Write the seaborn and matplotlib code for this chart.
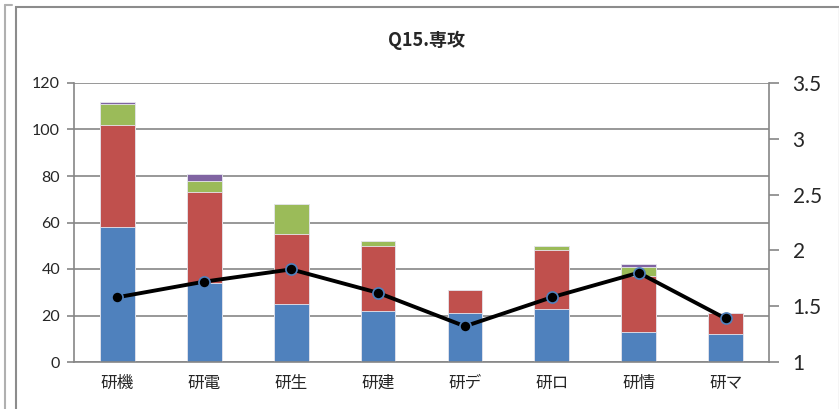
import numpy as np
import pandas as pd
import matplotlib
matplotlib.use("Agg")
import matplotlib.pyplot as plt
import seaborn as sns

# data
majors = ["研機", "研電", "研生", "研建", "研デ", "研ロ", "研情", "研マ"]
s1 = [58, 34, 25, 22, 21, 23, 13, 12]
s2 = [44, 39, 30, 28, 10, 25, 24, 9]
s3 = [9, 5, 13, 2, 0, 2, 4, 0]
s4 = [1, 3, 0, 0, 0, 0, 1, 0]
avg = [1.58, 1.72, 1.83, 1.62, 1.32, 1.58, 1.80, 1.39]

colors = ["#4F81BD", "#C0504D", "#9BBB59", "#8064A2"]
grid_c = "#868686"

sns.set_style("white")
plt.rcParams["font.family"] = ["Noto Sans CJK JP", "DejaVu Sans"]

df = pd.DataFrame({"major": majors, "s1": s1, "s2": s2, "s3": s3, "s4": s4})
cum = df[["s1", "s2", "s3", "s4"]].cumsum(axis=1)

fig = plt.figure(figsize=(8.39, 4.09), dpi=100)
ax = fig.add_axes([74 / 839, 47 / 409, 695 / 839, 279 / 409])

# chart frames
fig.add_artist(plt.Rectangle((15.5 / 839, -0.1), 1.0, (409 - 7) / 409 + 0.1,
                             transform=fig.transFigure, fill=False,
                             edgecolor="#8c8c8c", lw=1.5))
fig.add_artist(plt.Line2D([4.7 / 839, 4.7 / 839], [0, (409 - 5) / 409],
                          transform=fig.transFigure, color="#b0b0b0", lw=1.5))
fig.add_artist(plt.Line2D([4.7 / 839, 12 / 839], [(409 - 5) / 409, (409 - 5) / 409],
                          transform=fig.transFigure, color="#b0b0b0", lw=1.5))
fig.add_artist(plt.Line2D([838.5 / 839, 838.5 / 839], [0, (409 - 7) / 409],
                          transform=fig.transFigure, color="#d0d0d0", lw=1))

# stacked bars: draw tallest cumulative first
for col, c in zip(["s4", "s3", "s2", "s1"], colors[::-1]):
    sns.barplot(x=df["major"], y=cum[col], color=c, width=0.4, ax=ax,
                saturation=1, edgecolor="#e8e8f0", linewidth=0.6, zorder=2)

ax.set_ylim(0, 120)
ax.set_xlim(-0.5, 7.5)
ax.set_yticks(range(0, 121, 20))
ax.yaxis.grid(True, color=grid_c, lw=1.2, zorder=0)
ax.set_axisbelow(True)
ax.set_xlabel("")
ax.set_ylabel("")
ax.spines["top"].set_visible(False)
for s in ["left", "bottom", "right"]:
    ax.spines[s].set_color(grid_c)
    ax.spines[s].set_linewidth(1.2)
ax.set_xticks(np.arange(-0.5, 8, 1), minor=True)
ax.tick_params(axis="x", which="major", length=0, labelsize=12, pad=9)
ax.tick_params(axis="x", which="minor", length=5, color=grid_c, width=1.2)
ax.tick_params(axis="y", left=True, length=5, color=grid_c, width=1.2,
               labelsize=11.5, pad=5)
for t in ax.get_yticklabels():
    t.set_family(["Lato", "DejaVu Sans"])

ax2 = ax.twinx()
sns.lineplot(x=np.arange(len(majors)), y=avg, ax=ax2, color="black", lw=2.8,
             marker="o", markersize=8, markerfacecolor="black",
             markeredgecolor="#4F81BD", markeredgewidth=1.2, zorder=5)
ax2.set_ylim(1, 3.5)
ax2.set_yticks([1, 1.5, 2, 2.5, 3, 3.5])
ax2.set_yticklabels(["1", "1.5", "2", "2.5", "3", "3.5"], family=["Lato", "DejaVu Sans"])
for s in ax2.spines.values():
    s.set_visible(False)
ax2.tick_params(axis="y", right=True, length=7, color=grid_c, width=1.2,
                labelsize=15, pad=10)

fig.text(426 / 839, (409 - 40) / 409, "Q15.専攻", ha="center", va="center",
         fontsize=13, fontweight="bold")

fig.savefig("out.png", dpi=100)
